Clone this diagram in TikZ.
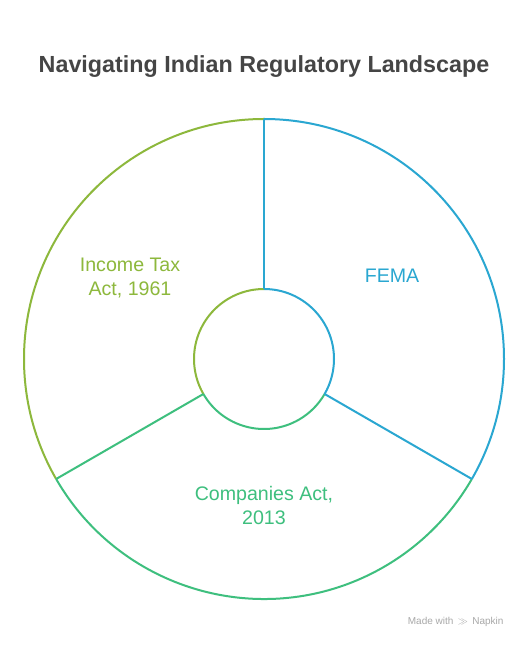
\documentclass[tikz,border=0pt]{standalone}
\usepackage{fontspec}
\setmainfont{Liberation Sans}
\usetikzlibrary{calc}
\definecolor{femablue}{HTML}{2AA7D1}
\definecolor{taxolive}{HTML}{8DB83C}
\definecolor{cogreen}{HTML}{3EBF7E}
\definecolor{titlegray}{HTML}{454545}
\definecolor{markgray}{HTML}{A8A8A8}
\tikzset{
  ring/.style={line width=2pt},
  lbl/.style={font=\fontsize{19.6}{24}\selectfont, align=center, inner sep=0pt},
}
\begin{document}
\begin{tikzpicture}[x=1pt,y=1pt]
\useasboundingbox (0,0) rectangle (528,648);
\fill[white] (0,0) rectangle (528,648);
\coordinate (c) at (264,289);
\coordinate (o90) at ($(c)+(90:240)$);
\coordinate (o330) at ($(c)+(-30:240)$);
\coordinate (o210) at ($(c)+(210:240)$);
\coordinate (i90) at ($(c)+(90:70)$);
\coordinate (i330) at ($(c)+(-30:70)$);
\coordinate (i210) at ($(c)+(210:70)$);
% outer arcs
\draw[ring, femablue] (o90) arc (90:-30:240);
\draw[ring, taxolive] (o90) arc (90:210:240);
\draw[ring, cogreen] (o210) arc (210:330:240);
% inner arcs
\draw[ring, femablue] (i90) arc (90:-30:70);
\draw[ring, taxolive] (i90) arc (90:210:70);
\draw[ring, cogreen] (i210) arc (210:330:70);
% spokes
\draw[ring, femablue] (i90) -- (o90);
\draw[ring, femablue] (i330) -- (o330);
\draw[ring, cogreen] (i210) -- (o210);
% title
\node[font=\bfseries\fontsize{23.3}{28}\selectfont, text=titlegray] (title) at (264,581) {Navigating Indian Regulatory Landscape};
% labels
\node[lbl, text=taxolive] (tax) at (130,370) {Income Tax\\Act, 1961};
\node[lbl, text=femablue] (fema) at (392,372) {FEMA};
\node[lbl, text=cogreen] (co) at (264,143) {Companies Act,\\2013};
% watermark
\node[font=\fontsize{10}{12}\selectfont, text=markgray, anchor=east] (mark) at (507,26) {Made with \,$\gg$\, Napkin};
\end{tikzpicture}
\end{document}
